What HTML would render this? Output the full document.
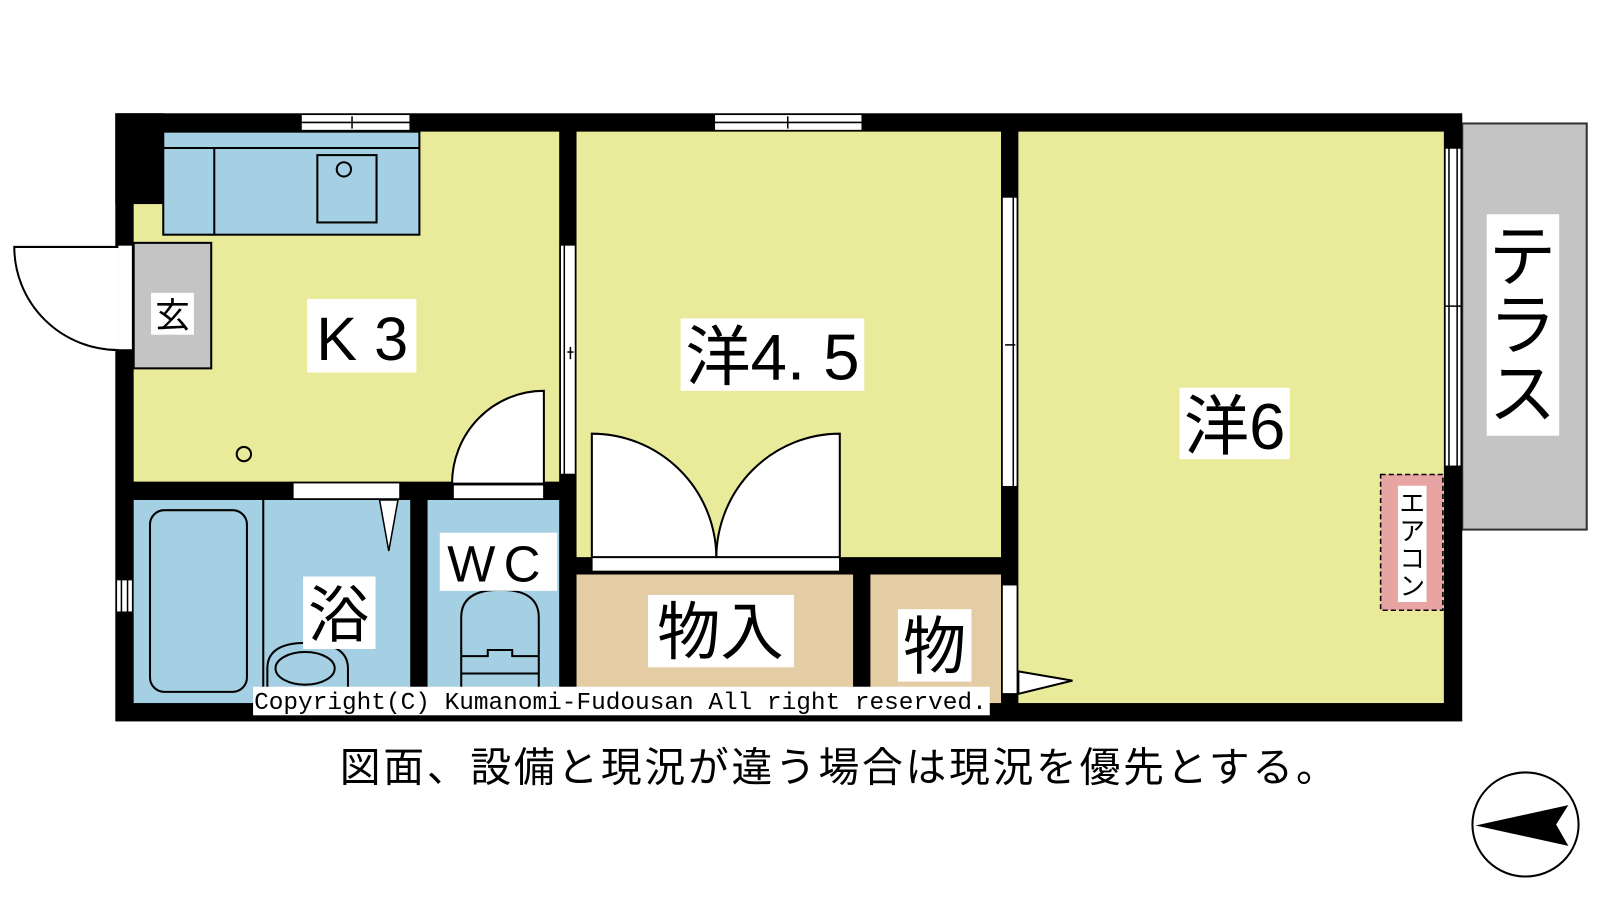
<!DOCTYPE html>
<html><head><meta charset="utf-8"><style>
html,body{margin:0;padding:0;background:#fff;width:1600px;height:900px;overflow:hidden}
svg{display:block}
text{font-family:"Liberation Sans","Noto Sans CJK JP",sans-serif;fill:#000}
</style></head><body>
<svg width="1600" height="900" viewBox="0 0 1568 882" xmlns="http://www.w3.org/2000/svg">
<!-- terrace -->
<rect x="1433" y="121" width="122" height="398" fill="#c4c4c4" stroke="#333" stroke-width="2"/>
<!-- outer wall -->
<rect x="113" y="111" width="1320" height="596" fill="#000"/>
<!-- rooms -->
<rect x="131" y="129" width="417" height="343" fill="#e9eb9b"/>
<rect x="565" y="129" width="416" height="417" fill="#e9eb9b"/>
<rect x="998" y="129" width="417" height="560" fill="#e9eb9b"/>
<rect x="131" y="490" width="271" height="199" fill="#a5d0e3"/>
<rect x="419" y="490" width="129" height="199" fill="#a5d0e3"/>
<rect x="565" y="563" width="271" height="126" fill="#e4cca4"/>
<rect x="853" y="563" width="128" height="126" fill="#e4cca4"/>
<rect x="113" y="111" width="47" height="89" fill="#000"/>
<!-- counter -->
<rect x="160" y="129" width="251" height="101" fill="#a5d0e3" stroke="#000" stroke-width="2"/>
<line x1="160" y1="145" x2="411" y2="145" stroke="#000" stroke-width="2"/>
<line x1="210" y1="145" x2="210" y2="230" stroke="#000" stroke-width="2"/>
<rect x="311" y="152" width="58" height="66" fill="none" stroke="#000" stroke-width="2"/>
<circle cx="337" cy="166" r="7" fill="none" stroke="#000" stroke-width="2"/>
<!-- top windows -->
<g fill="#fff" stroke="#000" stroke-width="1.5">
<rect x="295" y="112" width="107" height="16"/><line x1="295" y1="120" x2="402" y2="120"/><line x1="345" y1="114" x2="345" y2="126"/>
<rect x="700" y="112" width="145" height="16"/><line x1="700" y1="120" x2="845" y2="120"/><line x1="772" y1="114" x2="772" y2="126"/>
</g>
<!-- entrance -->
<rect x="115" y="240" width="15" height="103" fill="#fff" stroke="#000" stroke-width="1.5"/>
<path d="M116,242 H14 A102,101 0 0 0 116,343" fill="#fff" stroke="#000" stroke-width="2"/>
<rect x="131" y="238" width="76" height="123" fill="#c4c4c4" stroke="#000" stroke-width="2"/>
<rect x="148" y="287" width="42" height="41" fill="#fff"/>
<text x="169" y="321" font-size="34" text-anchor="middle">玄</text>
<!-- K3 -->
<rect x="301" y="293" width="107" height="72" fill="#fff"/>
<text x="355" y="353" font-size="60" text-anchor="middle">K 3</text>
<circle cx="239" cy="445" r="7" fill="none" stroke="#000" stroke-width="2"/>
<!-- K/bath wall openings -->
<rect x="287" y="473" width="105" height="16" fill="#fff" stroke="#000" stroke-width="1.5"/>
<rect x="444" y="475" width="89" height="14" fill="#fff" stroke="#000" stroke-width="1.5"/>
<path d="M533,474 V383 A90,91 0 0 0 443,474 Z" fill="#fff" stroke="#000" stroke-width="2"/>
<!-- vertical windows -->
<g fill="#fff" stroke="#000" stroke-width="1.5">
<rect x="549" y="240" width="15" height="225"/><line x1="553" y1="240" x2="553" y2="465"/><line x1="556" y1="345" x2="562" y2="345"/><line x1="559" y1="340" x2="559" y2="352"/>
<rect x="982" y="193" width="15" height="284"/><line x1="993" y1="193" x2="993" y2="477"/><line x1="985" y1="338" x2="995" y2="338"/>
<rect x="1416" y="145" width="16" height="312"/><line x1="1420" y1="145" x2="1420" y2="457"/><line x1="1428" y1="145" x2="1428" y2="457"/><line x1="1416" y1="300" x2="1432" y2="300"/>
<rect x="114" y="568" width="16" height="32"/><line x1="119" y1="568" x2="119" y2="600"/><line x1="125" y1="568" x2="125" y2="600"/>
<rect x="982" y="573" width="15" height="107"/>
</g>
<polygon points="998,658 1051,667 998,680" fill="#fff" stroke="#000" stroke-width="2"/>
<!-- closet doors -->
<rect x="580" y="546" width="243" height="14" fill="#fff" stroke="#000" stroke-width="1.5"/>
<path d="M580,546 V425 A122,122 0 0 1 702,546 Z" fill="#fff" stroke="#000" stroke-width="2"/>
<path d="M823,546 V425 A121,122 0 0 0 702,546 Z" fill="#fff" stroke="#000" stroke-width="2"/>
<!-- bath -->
<polygon points="372,490 390,490 381,540" fill="#fff" stroke="#000" stroke-width="1.5"/>
<rect x="147" y="500" width="95" height="178" rx="14" fill="none" stroke="#000" stroke-width="2"/>
<line x1="258" y1="490" x2="258" y2="689" stroke="#000" stroke-width="2"/>
<path d="M262,689 V655 Q262,630 300,630 Q341,630 341,655 V689" fill="none" stroke="#000" stroke-width="2"/>
<ellipse cx="299" cy="655" rx="29" ry="16" fill="none" stroke="#000" stroke-width="2"/>
<rect x="297" y="565" width="71" height="71" fill="#fff"/>
<text x="332" y="624" font-size="60" text-anchor="middle">浴</text>
<!-- WC -->
<path d="M452,689 V605 Q452,578 490,578 Q528,578 528,605 V689" fill="none" stroke="#000" stroke-width="2"/>
<path d="M452,643 H478 V637 H502 V643 H528 M452,660 H528" fill="none" stroke="#000" stroke-width="2"/>
<rect x="431" y="522" width="115" height="57" fill="#fff"/>
<text x="488" y="570" font-size="50" text-anchor="middle" letter-spacing="8">WC</text>
<!-- closets -->
<rect x="635" y="583" width="143" height="71" fill="#fff"/>
<text x="706" y="641" font-size="62" text-anchor="middle">物入</text>
<rect x="880" y="597" width="72" height="71" fill="#fff"/>
<text x="916" y="655" font-size="62" text-anchor="middle">物</text>
<!-- rooms labels -->
<rect x="667" y="312" width="180" height="71" fill="#fff"/>
<text x="757" y="372" font-size="64" text-anchor="middle">洋4. 5</text>
<rect x="1156" y="380" width="108" height="70" fill="#fff"/>
<text x="1210" y="440" font-size="64" text-anchor="middle">洋6</text>
<!-- terrace label -->
<rect x="1457" y="210" width="71" height="217" fill="#fff"/>
<text x="1492" y="275" font-size="66" text-anchor="middle">テ</text>
<text x="1492" y="342" font-size="66" text-anchor="middle">ラ</text>
<text x="1492" y="409" font-size="66" text-anchor="middle">ス</text>
<!-- aircon -->
<rect x="1353" y="465" width="61" height="133" fill="#e8a3a3" stroke="#000" stroke-width="1.5" stroke-dasharray="5,3"/>
<rect x="1370" y="476" width="28" height="114" fill="#fff"/>
<text x="1384" y="502" font-size="25" text-anchor="middle">エ</text>
<text x="1384" y="529" font-size="25" text-anchor="middle">ア</text>
<text x="1384" y="556" font-size="25" text-anchor="middle">コ</text>
<text x="1384" y="583" font-size="25" text-anchor="middle">ン</text>
<!-- copyright -->
<rect x="248" y="673" width="722" height="28" fill="#fff"/>
<text x="249" y="695" font-size="24" style="font-family:'Liberation Mono',monospace" textLength="718" lengthAdjust="spacingAndGlyphs">Copyright(C) Kumanomi-Fudousan All right reserved.</text>
<!-- caption -->
<text x="333" y="766" font-size="40" textLength="977" lengthAdjust="spacing">図面、設備と現況が違う場合は現況を優先とする。</text>
<!-- compass -->
<ellipse cx="1495" cy="808" rx="52" ry="51" fill="#fff" stroke="#000" stroke-width="2"/>
<polygon points="1446,809 1537,789 1525,808 1537,829" fill="#000"/>
</svg>
</body></html>
